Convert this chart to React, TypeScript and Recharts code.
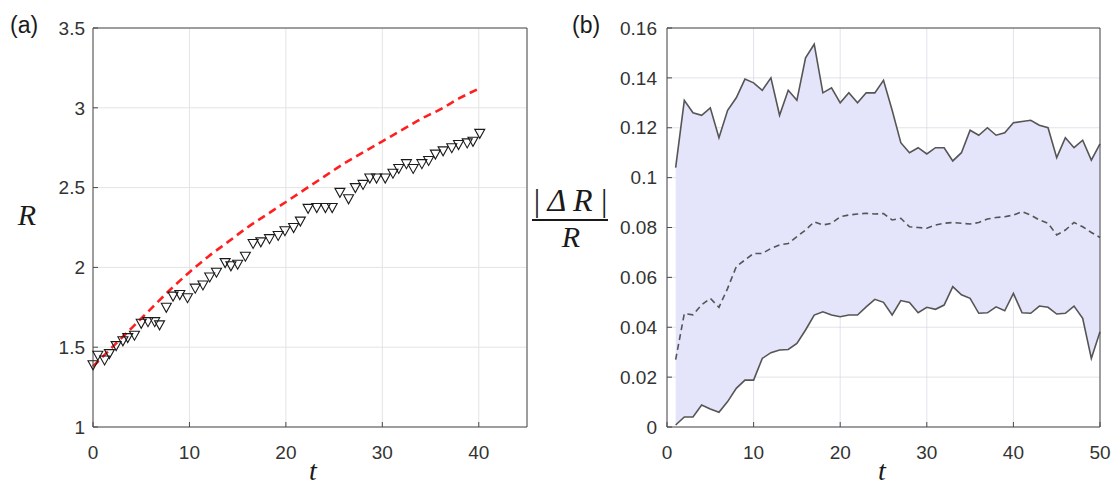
import React from 'react';
import {
  ComposedChart,
  Line,
  Scatter,
  Area,
  XAxis,
  YAxis,
  CartesianGrid,
} from 'recharts';

// ---------- Panel (a) data ----------
const tTri = [
  0, 0.5, 1.2, 1.7, 2.4, 3.1, 3.6, 4.3, 5, 5.7, 6.4, 6.9, 7.6, 8.3, 9, 9.8, 10.6, 11.4, 12.1, 12.8,
  13.7, 14.3, 15, 15.8, 16.6, 17.4, 18.3, 19.2, 19.9, 20.8, 21.5, 22.3, 23.2, 24.1, 24.8, 25.6, 26.5,
  27.2, 28, 28.7, 29.4, 30.3, 31.1, 31.7, 32.5, 33.2, 34.1, 34.8, 35.5, 36.3, 37.2, 37.9, 38.8, 39.4, 40.1,
];
const rTri = [
  1.39, 1.45, 1.42, 1.46, 1.51, 1.54, 1.56, 1.575, 1.65, 1.66, 1.66, 1.64, 1.75, 1.82, 1.83, 1.81, 1.87,
  1.89, 1.94, 1.97, 2.03, 2.01, 2.02, 2.07, 2.15, 2.16, 2.18, 2.2, 2.23, 2.25, 2.29, 2.37, 2.375, 2.375,
  2.375, 2.47, 2.43, 2.5, 2.52, 2.56, 2.56, 2.56, 2.59, 2.62, 2.65, 2.62, 2.65, 2.67, 2.71, 2.73, 2.75,
  2.77, 2.78, 2.79, 2.84,
];
const tFit = [0, 2, 4, 6, 8, 10, 12, 14, 16, 18, 20, 22, 24, 26, 28, 30, 32, 34, 36, 38, 40];
const rFit = [
  1.38, 1.5, 1.62, 1.74, 1.86, 1.97, 2.07, 2.16, 2.25, 2.33, 2.41, 2.49, 2.57, 2.65, 2.72, 2.79, 2.86,
  2.93, 2.99, 3.06, 3.12,
];
const xTicksA = [0, 10, 20, 30, 40];
const yTicksA = [1, 1.5, 2, 2.5, 3, 3.5];

// ---------- Panel (b) data ----------
const tB = [
  1, 2, 3, 4, 5, 6, 7, 8, 9, 10, 11, 12, 13, 14, 15, 16, 17, 18, 19, 20, 21, 22, 23, 24, 25, 26, 27, 28,
  29, 30, 31, 32, 33, 34, 35, 36, 37, 38, 39, 40, 41, 42, 43, 44, 45, 46, 47, 48, 49, 50,
];
const upperB = [
  0.104, 0.131, 0.126, 0.125, 0.128, 0.116, 0.127, 0.132, 0.1395, 0.138, 0.135, 0.14, 0.125, 0.135,
  0.131, 0.148, 0.1535, 0.134, 0.136, 0.13, 0.134, 0.13, 0.134, 0.134, 0.139, 0.127, 0.114, 0.11,
  0.112, 0.1095, 0.112, 0.112, 0.1067, 0.11, 0.119, 0.117, 0.12, 0.117, 0.118, 0.122, 0.1225, 0.123,
  0.121, 0.12, 0.108, 0.116, 0.112, 0.115, 0.107, 0.1135,
];
const meanB = [
  0.027, 0.0455, 0.045, 0.049, 0.0516, 0.048, 0.0556, 0.0643, 0.067, 0.0696, 0.0696, 0.0716, 0.073,
  0.0736, 0.0763, 0.079, 0.0823, 0.081, 0.0817, 0.0843, 0.085, 0.0854, 0.0857, 0.0854, 0.0856, 0.083,
  0.0837, 0.0803, 0.08, 0.0797, 0.081, 0.0817, 0.082, 0.0817, 0.0814, 0.082, 0.0834, 0.084, 0.0843,
  0.085, 0.0863, 0.085, 0.083, 0.0817, 0.077, 0.079, 0.082, 0.0803, 0.078, 0.076,
];
const lowerB = [
  0.0008, 0.004, 0.004, 0.0088, 0.0072, 0.0059, 0.0102, 0.0155, 0.0188, 0.0188, 0.0275, 0.0298,
  0.0309, 0.0311, 0.0335, 0.0389, 0.0449, 0.0462, 0.0449, 0.0442, 0.0449, 0.0449, 0.0482, 0.0512,
  0.05, 0.0449, 0.0507, 0.0499, 0.0458, 0.048, 0.0472, 0.0489, 0.0563, 0.053, 0.0516, 0.0456, 0.0458,
  0.0482, 0.0466, 0.0536, 0.0458, 0.0456, 0.0485, 0.048, 0.0453, 0.0456, 0.0485, 0.0436, 0.0275, 0.0382,
];
const xTicksB = [0, 10, 20, 30, 40, 50];
const yTicksB = [0, 0.02, 0.04, 0.06, 0.08, 0.1, 0.12, 0.14, 0.16];

const triData = tTri.map((t, i) => ({ t, R: rTri[i] }));
const fitData = tFit.map((t, i) => ({ t, R: rFit[i] }));
const bData = tB.map((t, i) => ({
  t,
  upper: upperB[i],
  mean: meanB[i],
  lower: lowerB[i],
  band: [lowerB[i], upperB[i]],
}));

const tickFont = { fill: '#333', fontSize: 19, fontFamily: '"Liberation Sans", Arial, sans-serif' };
const axisColor = '#4a4a4a';
const gridColor = '#e4e4e4';

const TriangleDown = (props: any) => {
  const { cx, cy } = props;
  if (cx == null || cy == null) return null;
  const pts = `${cx - 5},${cy - 4} ${cx + 5},${cy - 4} ${cx},${cy + 5}`;
  return <polygon points={pts} fill="none" stroke="#1a1a1a" strokeWidth={1.1} />;
};

const W_A = 560;
const W_B = 557;
const H = 486;

export default function App() {
  return (
    <div
      style={{
        position: 'absolute',
        left: 0,
        top: 0,
        width: 1117,
        height: 486,
        background: '#fff',
        overflow: 'hidden',
      }}
    >
      <div style={{ position: 'absolute', left: 0, top: 0 }}>
        <ComposedChart
          width={W_A}
          height={H}
          margin={{ top: 27, left: 92, right: W_A - 527 - 1, bottom: H - 427 - 1 }}
        >
          <CartesianGrid stroke={gridColor} strokeWidth={1} />
          <XAxis
            dataKey="t"
            type="number"
            domain={[0, 45]}
            ticks={xTicksA}
            height={1}
            axisLine={{ stroke: axisColor }}
            tickLine={{ stroke: axisColor }}
            tickSize={-5}
            tickMargin={24}
            tick={tickFont}
          />
          <XAxis
            xAxisId="top"
            orientation="top"
            type="number"
            domain={[0, 45]}
            ticks={xTicksA}
            height={1}
            axisLine={{ stroke: axisColor }}
            tickLine={{ stroke: axisColor }}
            tickSize={-5}
            tick={false}
          />
          <YAxis
            type="number"
            domain={[1, 3.5]}
            ticks={yTicksA}
            width={1}
            axisLine={{ stroke: axisColor }}
            tickLine={{ stroke: axisColor }}
            tickSize={-5}
            tickMargin={13}
            tick={tickFont}
          />
          <YAxis
            yAxisId="right"
            orientation="right"
            type="number"
            domain={[1, 3.5]}
            ticks={yTicksA}
            width={1}
            axisLine={{ stroke: axisColor }}
            tickLine={{ stroke: axisColor }}
            tickSize={-5}
            tick={false}
          />
          <Scatter
            data={triData}
            dataKey="R"
            shape={<TriangleDown />}
            isAnimationActive={false}
          />
          <Line
            data={fitData}
            dataKey="R"
            type="monotone"
            stroke="#ff1f1f"
            strokeWidth={2.6}
            strokeDasharray="8 5"
            dot={false}
            isAnimationActive={false}
          />
        </ComposedChart>
      </div>

      <div style={{ position: 'absolute', left: W_A, top: 0 }}>
        <ComposedChart
          width={W_B}
          height={H}
          data={bData}
          margin={{ top: 27, left: 667 - W_A - 1, right: W_A + W_B - 1100 - 1, bottom: H - 427 - 1 }}
        >
          <Area
            dataKey="band"
            type="linear"
            stroke="none"
            fill="#e4e4fb"
            fillOpacity={1}
            isAnimationActive={false}
            activeDot={false}
          />
          <CartesianGrid stroke="#d6d6e2" strokeOpacity={0.7} strokeWidth={1} />
          <XAxis
            dataKey="t"
            type="number"
            domain={[0, 50]}
            ticks={xTicksB}
            height={1}
            axisLine={{ stroke: axisColor }}
            tickLine={{ stroke: axisColor }}
            tickSize={-5}
            tickMargin={24}
            tick={tickFont}
          />
          <XAxis
            xAxisId="top"
            orientation="top"
            type="number"
            domain={[0, 50]}
            ticks={xTicksB}
            height={1}
            axisLine={{ stroke: axisColor }}
            tickLine={{ stroke: axisColor }}
            tickSize={-5}
            tick={false}
          />
          <YAxis
            type="number"
            domain={[0, 0.16]}
            ticks={yTicksB}
            width={1}
            axisLine={{ stroke: axisColor }}
            tickLine={{ stroke: axisColor }}
            tickSize={-5}
            tickMargin={15}
            tick={tickFont}
          />
          <YAxis
            yAxisId="right"
            orientation="right"
            type="number"
            domain={[0, 0.16]}
            ticks={yTicksB}
            width={1}
            axisLine={{ stroke: axisColor }}
            tickLine={{ stroke: axisColor }}
            tickSize={-5}
            tick={false}
          />
          <Line
            dataKey="upper"
            type="linear"
            stroke="#555"
            strokeWidth={1.6}
            dot={false}
            isAnimationActive={false}
          />
          <Line
            dataKey="lower"
            type="linear"
            stroke="#555"
            strokeWidth={1.6}
            dot={false}
            isAnimationActive={false}
          />
          <Line
            dataKey="mean"
            type="linear"
            stroke="#555"
            strokeWidth={1.6}
            strokeDasharray="6 4"
            dot={false}
            isAnimationActive={false}
          />
        </ComposedChart>
      </div>

      <svg
        width={1117}
        height={486}
        style={{ position: 'absolute', left: 0, top: 0, pointerEvents: 'none' }}
      >
        <text
          x={10}
          y={33}
          fontFamily='"Liberation Sans", Arial, sans-serif'
          fontSize={23}
          fill="#1a1a1a"
        >
          (a)
        </text>
        <text
          x={572}
          y={33}
          fontFamily='"Liberation Sans", Arial, sans-serif'
          fontSize={23}
          fill="#1a1a1a"
        >
          (b)
        </text>
        <text
          x={27}
          y={225}
          textAnchor="middle"
          fontFamily='"Liberation Serif", "DejaVu Serif", serif'
          fontStyle="italic"
          fontSize={30}
          fill="#1a1a1a"
        >
          R
        </text>
        <text
          x={313}
          y={480}
          textAnchor="middle"
          fontFamily='"Liberation Serif", "DejaVu Serif", serif'
          fontStyle="italic"
          fontSize={28}
          fill="#1a1a1a"
        >
          t
        </text>
        <text
          x={882}
          y={480}
          textAnchor="middle"
          fontFamily='"Liberation Serif", "DejaVu Serif", serif'
          fontStyle="italic"
          fontSize={28}
          fill="#1a1a1a"
        >
          t
        </text>
        <text
          x={532}
          y={211}
          textLength={76}
          lengthAdjust="spacing"
          fontFamily='"Liberation Serif", "DejaVu Serif", serif'
          fontStyle="italic"
          fontSize={32}
          fill="#1a1a1a"
        >
          |ΔR|
        </text>
        <line x1={532} x2={608} y1={220} y2={220} stroke="#1a1a1a" strokeWidth={2} />
        <text
          x={571}
          y={247}
          textAnchor="middle"
          fontFamily='"Liberation Serif", "DejaVu Serif", serif'
          fontStyle="italic"
          fontSize={30}
          fill="#1a1a1a"
        >
          R
        </text>
      </svg>
    </div>
  );
}
